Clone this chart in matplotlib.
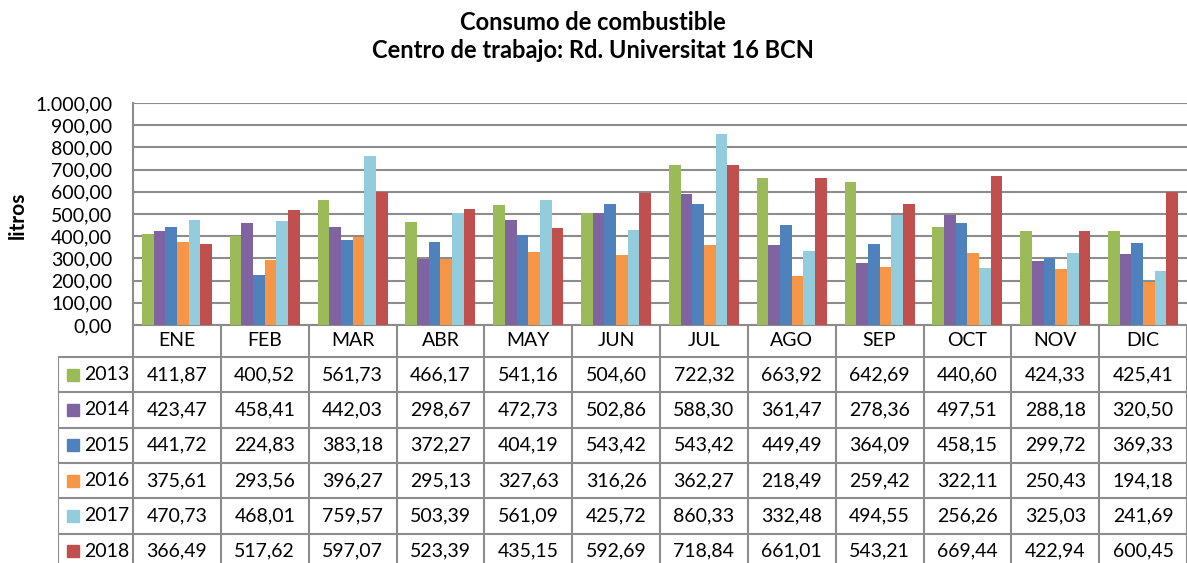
import numpy as np
import matplotlib.pyplot as plt
from matplotlib.patches import Rectangle
from matplotlib.ticker import FuncFormatter

plt.rcParams['font.family'] = ['Lato', 'DejaVu Sans']

months = ["ENE", "FEB", "MAR", "ABR", "MAY", "JUN",
          "JUL", "AGO", "SEP", "OCT", "NOV", "DIC"]
years = ["2013", "2014", "2015", "2016", "2017", "2018"]

v2013 = [411.87, 400.52, 561.73, 466.17, 541.16, 504.60, 722.32, 663.92, 642.69, 440.60, 424.33, 425.41]
v2014 = [423.47, 458.41, 442.03, 298.67, 472.73, 502.86, 588.30, 361.47, 278.36, 497.51, 288.18, 320.50]
v2015 = [441.72, 224.83, 383.18, 372.27, 404.19, 543.42, 543.42, 449.49, 364.09, 458.15, 299.72, 369.33]
v2016 = [375.61, 293.56, 396.27, 295.13, 327.63, 316.26, 362.27, 218.49, 259.42, 322.11, 250.43, 194.18]
v2017 = [470.73, 468.01, 759.57, 503.39, 561.09, 425.72, 860.33, 332.48, 494.55, 256.26, 325.03, 241.69]
v2018 = [366.49, 517.62, 597.07, 523.39, 435.15, 592.69, 718.84, 661.01, 543.21, 669.44, 422.94, 600.45]
series = [v2013, v2014, v2015, v2016, v2017, v2018]
colors = ["#9BBB59", "#8064A2", "#4F81BD", "#F79646", "#93CDDD", "#C0504D"]


def es_fmt(v, decimals=2):
    s = f"{v:,.{decimals}f}"
    return s.replace(",", "X").replace(".", ",").replace("X", ".")


W, H = 1187, 563
fig = plt.figure(figsize=(W / 100, H / 100), dpi=100)
grid_c = "#8C8C8C"
fs = 14

# chart area (pixel layout of the original)
left, right, top, bottom = 133, 1187, 103, 325
ax = fig.add_axes([left / W, 1 - bottom / H, (right - left) / W, (bottom - top) / H])
x = np.arange(len(months))
bw = 0.133
for i, (vals, c) in enumerate(zip(series, colors)):
    ax.bar(x + (i - 2.5) * bw, vals, bw, color=c, zorder=3, linewidth=0)

ax.set_xlim(-0.5, 11.5)
ax.set_ylim(0, 1000)
ax.set_yticks(np.arange(0, 1001, 100))
ax.yaxis.set_major_formatter(FuncFormatter(lambda v, p: es_fmt(v)))
ax.set_xticks([])
ax.grid(axis="y", color=grid_c, lw=1.5, zorder=0)
ax.tick_params(axis="y", length=0, pad=15, labelsize=fs)
for s in ["top", "right"]:
    ax.spines[s].set_visible(False)
for s in ["left", "bottom"]:
    ax.spines[s].set_color(grid_c)
    ax.spines[s].set_linewidth(1.5)

# data table below
lab_w = 75 / ((right - left) / 12)
x0 = -0.5 - lab_w
header_h, row_h = 32, 35.3
tab_h = header_h + row_h * len(years)
tax = fig.add_axes([58 / W, 1 - (bottom + tab_h) / H, (right - 58) / W, tab_h / H])
tax.set_xlim(x0, 11.5)
tax.set_ylim(tab_h, 0)
tax.axis("off")

lk = dict(color=grid_c, lw=1.5, solid_capstyle="butt")
for k in range(13):
    tax.plot([-0.5 + k, -0.5 + k], [0, tab_h], **lk)
tax.plot([x0, x0], [header_h, tab_h], **lk)
for r in range(len(years) + 1):
    yy = header_h + r * row_h
    tax.plot([x0, 11.5], [yy, yy], **lk)

for j, m in enumerate(months):
    tax.text(j, header_h / 2, m, ha="center", va="center", fontsize=fs)

px = (right - left) / 12
for r, (yr, vals, c) in enumerate(zip(years, series, colors)):
    yc = header_h + (r + 0.5) * row_h
    tax.add_patch(Rectangle((x0 + 9 / px, yc - 6), 12 / px, 12, color=c))
    tax.text(x0 + 26 / px, yc, yr, ha="left", va="center", fontsize=fs)
    for j, v in enumerate(vals):
        tax.text(j, yc, es_fmt(v), ha="center", va="center", fontsize=fs)

fig.text(593 / W, 1 - 22 / H, "Consumo de combustible", ha="center", va="center",
         fontsize=17, fontweight="bold")
fig.text(593 / W, 1 - 51 / H, "Centro de trabajo: Rd. Universitat 16 BCN", ha="center",
         va="center", fontsize=17, fontweight="bold")
fig.text(18 / W, 1 - 215 / H, "litros", ha="center", va="center", rotation=90,
         fontsize=15, fontweight="bold")

fig.savefig("out.png", dpi=100)
